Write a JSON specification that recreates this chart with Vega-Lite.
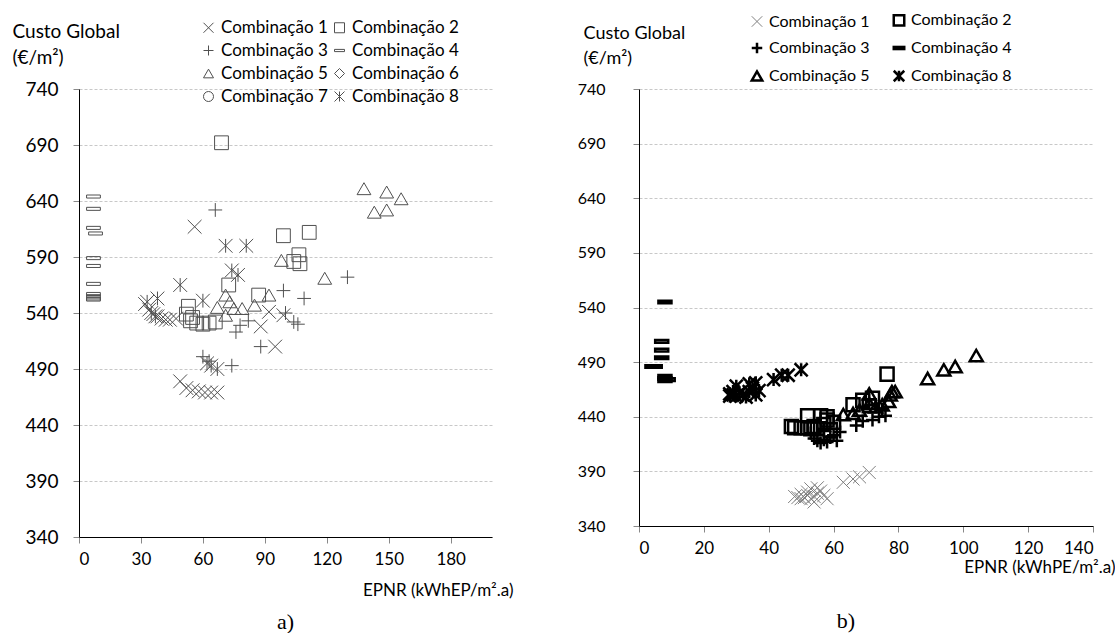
{
  "$schema": "https://vega.github.io/schema/vega-lite/v6.json",
  "padding": {"left": 12, "top": 12, "right": 0, "bottom": 0},
  "background": "white",
  "config": {
    "font": "Lato",
    "view": {"stroke": null},
    "axis": {"domainColor": "#000000", "tickColor": "#888888", "gridColor": "#c8c8c8", "gridDash": [3, 2], "labelColor": "#000", "titleColor": "#000", "titleFontWeight": "normal", "labelFont": "Lato", "titleFont": "Lato"},
    "legend": {"labelFont": "Lato", "labelColor": "#000"},
    "title": {"color": "#000"}
  },
  "datasets": {
    "a": [
      {"c": "Combinação 1", "x": 56, "y": 617}, {"c": "Combinação 1", "x": 32, "y": 548}, {"c": "Combinação 1", "x": 34, "y": 543}, {"c": "Combinação 1", "x": 36, "y": 539}, {"c": "Combinação 1", "x": 38, "y": 537}, {"c": "Combinação 1", "x": 40, "y": 535}, {"c": "Combinação 1", "x": 42, "y": 534}, {"c": "Combinação 1", "x": 44, "y": 534}, {"c": "Combinação 1", "x": 47, "y": 535}, {"c": "Combinação 1", "x": 49, "y": 479}, {"c": "Combinação 1", "x": 52, "y": 473}, {"c": "Combinação 1", "x": 55, "y": 471}, {"c": "Combinação 1", "x": 58, "y": 470}, {"c": "Combinação 1", "x": 61, "y": 469}, {"c": "Combinação 1", "x": 64, "y": 469}, {"c": "Combinação 1", "x": 67, "y": 469}, {"c": "Combinação 1", "x": 88, "y": 528}, {"c": "Combinação 1", "x": 95, "y": 510}, {"c": "Combinação 1", "x": 99, "y": 538}, {"c": "Combinação 1", "x": 92, "y": 541},
      {"c": "Combinação 2", "x": 69, "y": 692}, {"c": "Combinação 2", "x": 99, "y": 609}, {"c": "Combinação 2", "x": 111.5, "y": 612}, {"c": "Combinação 2", "x": 106.5, "y": 592}, {"c": "Combinação 2", "x": 104, "y": 586}, {"c": "Combinação 2", "x": 107, "y": 584}, {"c": "Combinação 2", "x": 72.5, "y": 565}, {"c": "Combinação 2", "x": 87, "y": 556}, {"c": "Combinação 2", "x": 53, "y": 546}, {"c": "Combinação 2", "x": 52, "y": 539}, {"c": "Combinação 2", "x": 54, "y": 533}, {"c": "Combinação 2", "x": 57, "y": 531}, {"c": "Combinação 2", "x": 60, "y": 530}, {"c": "Combinação 2", "x": 63, "y": 531}, {"c": "Combinação 2", "x": 66, "y": 532}, {"c": "Combinação 2", "x": 55, "y": 536},
      {"c": "Combinação 3", "x": 66, "y": 632}, {"c": "Combinação 3", "x": 130, "y": 572}, {"c": "Combinação 3", "x": 99, "y": 560}, {"c": "Combinação 3", "x": 109, "y": 553}, {"c": "Combinação 3", "x": 78, "y": 529}, {"c": "Combinação 3", "x": 76, "y": 523}, {"c": "Combinação 3", "x": 104, "y": 532}, {"c": "Combinação 3", "x": 106, "y": 530}, {"c": "Combinação 3", "x": 88, "y": 510}, {"c": "Combinação 3", "x": 60, "y": 501}, {"c": "Combinação 3", "x": 63, "y": 497}, {"c": "Combinação 3", "x": 74, "y": 493}, {"c": "Combinação 3", "x": 100, "y": 540}, {"c": "Combinação 3", "x": 82, "y": 533},
      {"c": "Combinação 4", "x": 7, "y": 644}, {"c": "Combinação 4", "x": 7, "y": 633}, {"c": "Combinação 4", "x": 7, "y": 616}, {"c": "Combinação 4", "x": 8, "y": 611}, {"c": "Combinação 4", "x": 7, "y": 589}, {"c": "Combinação 4", "x": 7, "y": 582}, {"c": "Combinação 4", "x": 7, "y": 566}, {"c": "Combinação 4", "x": 7, "y": 557}, {"c": "Combinação 4", "x": 7, "y": 555}, {"c": "Combinação 4", "x": 7, "y": 553}, {"c": "Combinação 4", "x": 7, "y": 552},
      {"c": "Combinação 5", "x": 138, "y": 651}, {"c": "Combinação 5", "x": 149, "y": 648}, {"c": "Combinação 5", "x": 156, "y": 642}, {"c": "Combinação 5", "x": 143, "y": 630}, {"c": "Combinação 5", "x": 149, "y": 632}, {"c": "Combinação 5", "x": 98, "y": 587}, {"c": "Combinação 5", "x": 119, "y": 571}, {"c": "Combinação 5", "x": 71, "y": 556}, {"c": "Combinação 5", "x": 92, "y": 556}, {"c": "Combinação 5", "x": 67, "y": 545}, {"c": "Combinação 5", "x": 75, "y": 544}, {"c": "Combinação 5", "x": 79, "y": 544}, {"c": "Combinação 5", "x": 85, "y": 547}, {"c": "Combinação 5", "x": 71, "y": 538}, {"c": "Combinação 5", "x": 73, "y": 550},
      {"c": "Combinação 8", "x": 71, "y": 600}, {"c": "Combinação 8", "x": 81, "y": 600}, {"c": "Combinação 8", "x": 74, "y": 578}, {"c": "Combinação 8", "x": 77, "y": 574}, {"c": "Combinação 8", "x": 49, "y": 565}, {"c": "Combinação 8", "x": 60, "y": 551}, {"c": "Combinação 8", "x": 33, "y": 550}, {"c": "Combinação 8", "x": 38, "y": 553}, {"c": "Combinação 8", "x": 35, "y": 540}, {"c": "Combinação 8", "x": 37, "y": 537}, {"c": "Combinação 8", "x": 64, "y": 493}, {"c": "Combinação 8", "x": 67, "y": 490}, {"c": "Combinação 8", "x": 62, "y": 495}
    ],
    "b": [
      {"c": "Combinação 1", "x": 48, "y": 367}, {"c": "Combinação 1", "x": 49, "y": 366}, {"c": "Combinação 1", "x": 50, "y": 365}, {"c": "Combinação 1", "x": 51, "y": 366}, {"c": "Combinação 1", "x": 52, "y": 368}, {"c": "Combinação 1", "x": 52, "y": 371}, {"c": "Combinação 1", "x": 53, "y": 365}, {"c": "Combinação 1", "x": 54, "y": 367}, {"c": "Combinação 1", "x": 55, "y": 370}, {"c": "Combinação 1", "x": 56, "y": 372}, {"c": "Combinação 1", "x": 57, "y": 368}, {"c": "Combinação 1", "x": 53, "y": 374}, {"c": "Combinação 1", "x": 55, "y": 375}, {"c": "Combinação 1", "x": 58, "y": 365}, {"c": "Combinação 1", "x": 63, "y": 380}, {"c": "Combinação 1", "x": 66, "y": 383}, {"c": "Combinação 1", "x": 68, "y": 385}, {"c": "Combinação 1", "x": 71, "y": 389}, {"c": "Combinação 1", "x": 50, "y": 369}, {"c": "Combinação 1", "x": 54, "y": 362},
      {"c": "Combinação 2", "x": 76.5, "y": 479}, {"c": "Combinação 2", "x": 66, "y": 451}, {"c": "Combinação 2", "x": 69, "y": 455}, {"c": "Combinação 2", "x": 72, "y": 457}, {"c": "Combinação 2", "x": 71, "y": 450}, {"c": "Combinação 2", "x": 52, "y": 441}, {"c": "Combinação 2", "x": 56, "y": 441}, {"c": "Combinação 2", "x": 58, "y": 440}, {"c": "Combinação 2", "x": 47, "y": 431}, {"c": "Combinação 2", "x": 48, "y": 430}, {"c": "Combinação 2", "x": 50, "y": 430}, {"c": "Combinação 2", "x": 52, "y": 430}, {"c": "Combinação 2", "x": 54, "y": 431}, {"c": "Combinação 2", "x": 55, "y": 429}, {"c": "Combinação 2", "x": 57, "y": 433}, {"c": "Combinação 2", "x": 58, "y": 437}, {"c": "Combinação 2", "x": 59, "y": 428}, {"c": "Combinação 2", "x": 53, "y": 429}, {"c": "Combinação 2", "x": 60, "y": 435},
      {"c": "Combinação 3", "x": 53, "y": 425}, {"c": "Combinação 3", "x": 54, "y": 420}, {"c": "Combinação 3", "x": 55, "y": 418}, {"c": "Combinação 3", "x": 56, "y": 416}, {"c": "Combinação 3", "x": 57, "y": 419}, {"c": "Combinação 3", "x": 58, "y": 417}, {"c": "Combinação 3", "x": 59, "y": 421}, {"c": "Combinação 3", "x": 60, "y": 423}, {"c": "Combinação 3", "x": 61, "y": 418}, {"c": "Combinação 3", "x": 62, "y": 426}, {"c": "Combinação 3", "x": 57, "y": 429}, {"c": "Combinação 3", "x": 67, "y": 432}, {"c": "Combinação 3", "x": 69, "y": 436}, {"c": "Combinação 3", "x": 72, "y": 437}, {"c": "Combinação 3", "x": 74, "y": 440}, {"c": "Combinação 3", "x": 76, "y": 441}, {"c": "Combinação 3", "x": 75, "y": 447},
      {"c": "Combinação 4", "x": 8, "y": 545}, {"c": "Combinação 4", "x": 7, "y": 509}, {"c": "Combinação 4", "x": 7, "y": 501}, {"c": "Combinação 4", "x": 7, "y": 494}, {"c": "Combinação 4", "x": 5, "y": 486}, {"c": "Combinação 4", "x": 4, "y": 486}, {"c": "Combinação 4", "x": 8, "y": 477}, {"c": "Combinação 4", "x": 8, "y": 475}, {"c": "Combinação 4", "x": 8, "y": 473}, {"c": "Combinação 4", "x": 9, "y": 474},
      {"c": "Combinação 5", "x": 104, "y": 496}, {"c": "Combinação 5", "x": 97.5, "y": 486}, {"c": "Combinação 5", "x": 94, "y": 483}, {"c": "Combinação 5", "x": 89, "y": 475}, {"c": "Combinação 5", "x": 79, "y": 463}, {"c": "Combinação 5", "x": 78, "y": 463}, {"c": "Combinação 5", "x": 77.5, "y": 460}, {"c": "Combinação 5", "x": 77, "y": 454}, {"c": "Combinação 5", "x": 71, "y": 461}, {"c": "Combinação 5", "x": 71, "y": 452}, {"c": "Combinação 5", "x": 68, "y": 446}, {"c": "Combinação 5", "x": 66, "y": 443}, {"c": "Combinação 5", "x": 63, "y": 442}, {"c": "Combinação 5", "x": 75, "y": 451}, {"c": "Combinação 5", "x": 73, "y": 449},
      {"c": "Combinação 8", "x": 28, "y": 461}, {"c": "Combinação 8", "x": 29, "y": 460}, {"c": "Combinação 8", "x": 30, "y": 459}, {"c": "Combinação 8", "x": 31, "y": 462}, {"c": "Combinação 8", "x": 30, "y": 468}, {"c": "Combinação 8", "x": 32, "y": 460}, {"c": "Combinação 8", "x": 33, "y": 458}, {"c": "Combinação 8", "x": 34, "y": 463}, {"c": "Combinação 8", "x": 35, "y": 466}, {"c": "Combinação 8", "x": 36, "y": 460}, {"c": "Combinação 8", "x": 34, "y": 470}, {"c": "Combinação 8", "x": 36, "y": 471}, {"c": "Combinação 8", "x": 37, "y": 464}, {"c": "Combinação 8", "x": 28, "y": 459}, {"c": "Combinação 8", "x": 29, "y": 463}, {"c": "Combinação 8", "x": 41.5, "y": 474}, {"c": "Combinação 8", "x": 44, "y": 478}, {"c": "Combinação 8", "x": 46, "y": 478}, {"c": "Combinação 8", "x": 50, "y": 483}
    ]
  },
  "hconcat": [
    {
      "width": 413,
      "height": 448,
      "data": {"name": "a"},
      "title": {"text": "a)", "orient": "bottom", "font": "Liberation Serif", "fontSize": 22, "fontWeight": "normal", "offset": 14},
      "mark": {"type": "point", "filled": false, "color": "#505050", "strokeWidth": 1, "size": 190, "opacity": 1},
      "encoding": {
        "x": {"field": "x", "type": "quantitative", "scale": {"domain": [0, 200], "nice": false},
          "axis": {"values": [0, 30, 60, 90, 120, 150, 180], "grid": false, "labelFontSize": 17, "labelPadding": 8, "tickSize": 6,
            "title": "EPNR (kWhEP/m².a)", "titleFontSize": 17, "titleAlign": "right", "titleBaseline": "alphabetic", "titleX": 434, "titleY": 58}},
        "y": {"field": "y", "type": "quantitative", "scale": {"domain": [340, 740], "nice": false, "zero": false},
          "axis": {"values": [340, 390, 440, 490, 540, 590, 640, 690, 740], "grid": true, "labelFontSize": 19, "labelPadding": 15, "tickSize": 6,
            "title": ["Custo Global", "(€/m²)"], "titleFontSize": 19, "titleAngle": 0, "titleAlign": "left", "titleBaseline": "alphabetic", "titleX": -67, "titleY": -52, "titleLineHeight": 26}},
        "shape": {"field": "c", "type": "nominal",
          "scale": {"domain": ["Combinação 1", "Combinação 3", "Combinação 5", "Combinação 7", "Combinação 2", "Combinação 4", "Combinação 6", "Combinação 8"],
            "range": ["M-1,-1L1,1M-1,1L1,-1", "M-1,0L1,0M0,-1L0,1", "triangle-up", "circle", "square", "M-1,-0.22L1,-0.22L1,0.22L-1,0.22Z", "diamond", "M-1,-1L1,1M-1,1L1,-1M0,-1L0,1"]},
          "legend": {"orient": "none", "legendX": 121, "legendY": -70, "columns": 2, "title": null, "labelFontSize": 17, "symbolSize": 100, "symbolStrokeColor": "#505050", "symbolStrokeWidth": 1, "rowPadding": 5, "columnPadding": 3, "labelOffset": 4}}
      }
    },
    {
      "width": 454,
      "height": 437,
      "data": {"name": "b"},
      "title": {"text": "b)", "orient": "bottom", "font": "Liberation Serif", "fontSize": 22, "fontWeight": "normal", "offset": 36, "dx": -20},
      "mark": {"type": "point", "filled": false, "size": 170, "opacity": 1},
      "encoding": {
        "x": {"field": "x", "type": "quantitative", "scale": {"domain": [0, 140], "nice": false},
          "axis": {"values": [0, 20, 40, 60, 80, 100, 120, 140], "grid": false, "labelFontSize": 17, "labelPadding": 8, "tickSize": 6,
            "title": "EPNR (kWhPE/m².a)", "titleFontSize": 17, "titleAlign": "right", "titleBaseline": "alphabetic", "titleX": 476, "titleY": 46}},
        "y": {"field": "y", "type": "quantitative", "scale": {"domain": [340, 740], "nice": false, "zero": false},
          "axis": {"values": [340, 390, 440, 490, 540, 590, 640, 690, 740], "grid": true, "labelFontSize": 16, "labelPadding": 28, "tickSize": 6,
            "title": ["Custo Global", "(€/m²)"], "titleFontSize": 18, "titleAngle": 0, "titleAlign": "left", "titleBaseline": "alphabetic", "titleX": -56, "titleY": -51, "titleLineHeight": 25}},
        "shape": {"field": "c", "type": "nominal",
          "scale": {"domain": ["Combinação 1", "Combinação 3", "Combinação 5", "Combinação 2", "Combinação 4", "Combinação 8"],
            "range": ["M-1,-1L1,1M-1,1L1,-1", "M-1,0L1,0M0,-1L0,1", "triangle-up", "square", "M-1,-0.2L1,-0.2L1,0.2L-1,0.2Z", "M-1,-1L1,1M-1,1L1,-1M0,-1L0,1"]},
          "legend": {"orient": "none", "legendX": 110, "legendY": -77, "columns": 2, "title": null, "labelFontSize": 16, "symbolSize": 110, "rowPadding": 6, "columnPadding": 18, "labelOffset": 4}},
        "color": {"field": "c", "type": "nominal",
          "scale": {"domain": ["Combinação 1", "Combinação 3", "Combinação 5", "Combinação 2", "Combinação 4", "Combinação 8"],
            "range": ["#808080", "#000000", "#000000", "#000000", "#000000", "#000000"]}},
        "strokeWidth": {"field": "c", "type": "nominal",
          "scale": {"type": "ordinal", "domain": ["Combinação 1", "Combinação 3", "Combinação 5", "Combinação 2", "Combinação 4", "Combinação 8"],
            "range": [1, 2.5, 2.5, 2.5, 2.5, 2.5]}}
      }
    }
  ],
  "spacing": 147,
  "bounds": "flush",
  "resolve": {"scale": {"shape": "independent", "color": "independent", "strokeWidth": "independent"}, "legend": {"shape": "independent", "color": "independent", "strokeWidth": "independent"}}
}
